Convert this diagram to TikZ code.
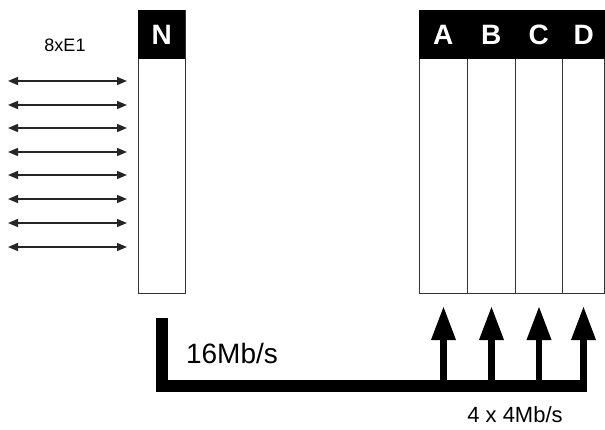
\documentclass[tikz,border=0pt]{standalone}
\usepackage{fontspec}
\setmainfont{Liberation Sans}
\usetikzlibrary{arrows.meta}
\begin{document}
\begin{tikzpicture}[x=1pt,y=-1pt,
  colbox/.style={draw=black!80,line width=1pt,fill=white,inner sep=0pt,anchor=north west,minimum height=283},
  header/.style={fill=black,text=white,inner sep=0pt,anchor=north west,minimum height=49,font=\bfseries\fontsize{28}{30}\selectfont},
  e1/.style={draw=black!85,line width=1.4pt,{Triangle[length=10pt,width=8pt]}-{Triangle[length=10pt,width=8pt]}},
  bus/.style={draw=black,line width=12pt,line cap=butt,line join=miter},
  up/.style={draw=black,line width=6.5pt,-{Triangle[length=34pt,width=23pt]}},
  lbl/.style={inner sep=0pt}]
\useasboundingbox[fill=white] (0,0) rectangle (605,429);
% N box
\node[colbox,minimum width=47] (Nbox) at (138,10) {};
\node[header,minimum width=47] (Nh) at (138,10) {N};
% A B C D columns
\node[colbox,minimum width=48] (colA) at (419,10) {};
\node[colbox,minimum width=48] (colB) at (467,10) {};
\node[colbox,minimum width=47] (colC) at (515,10) {};
\node[colbox,minimum width=42] (colD) at (562,10) {};
\node[header,minimum width=48] (hA) at (419,10) {A};
\node[header,minimum width=48] (hB) at (467,10) {B};
\node[header,minimum width=47] (hC) at (515,10) {C};
\node[header,minimum width=43] (hD) at (562,10) {D};
% 8xE1
\node[lbl,font=\fontsize{18}{20}\selectfont] (e1lbl) at (65,45) {8xE1};
\foreach \i/\y in {1/81,2/105,3/128,4/152,5/175,6/199,7/223,8/247}{
  \coordinate (l\i) at (8,\y);
  \coordinate (r\i) at (127,\y);
  \draw[e1] (l\i) -- (r\i);
}
% bus
\coordinate (bstart) at ([yshift=-24pt]Nbox.south);
\coordinate (bend) at (587,386);
\draw[bus] (bstart) |- (bend);
\foreach \c in {A,B,C,D}{
  \draw[up] (col\c.south |- bend) -- ([yshift=-12pt]col\c.south);
}
\node[lbl,font=\fontsize{28}{30}\selectfont] (r16) at (232,353) {16Mb/s};
\node[lbl,font=\fontsize{22}{24}\selectfont] (r4) at (515,415) {4 x 4Mb/s};
\end{tikzpicture}
\end{document}
